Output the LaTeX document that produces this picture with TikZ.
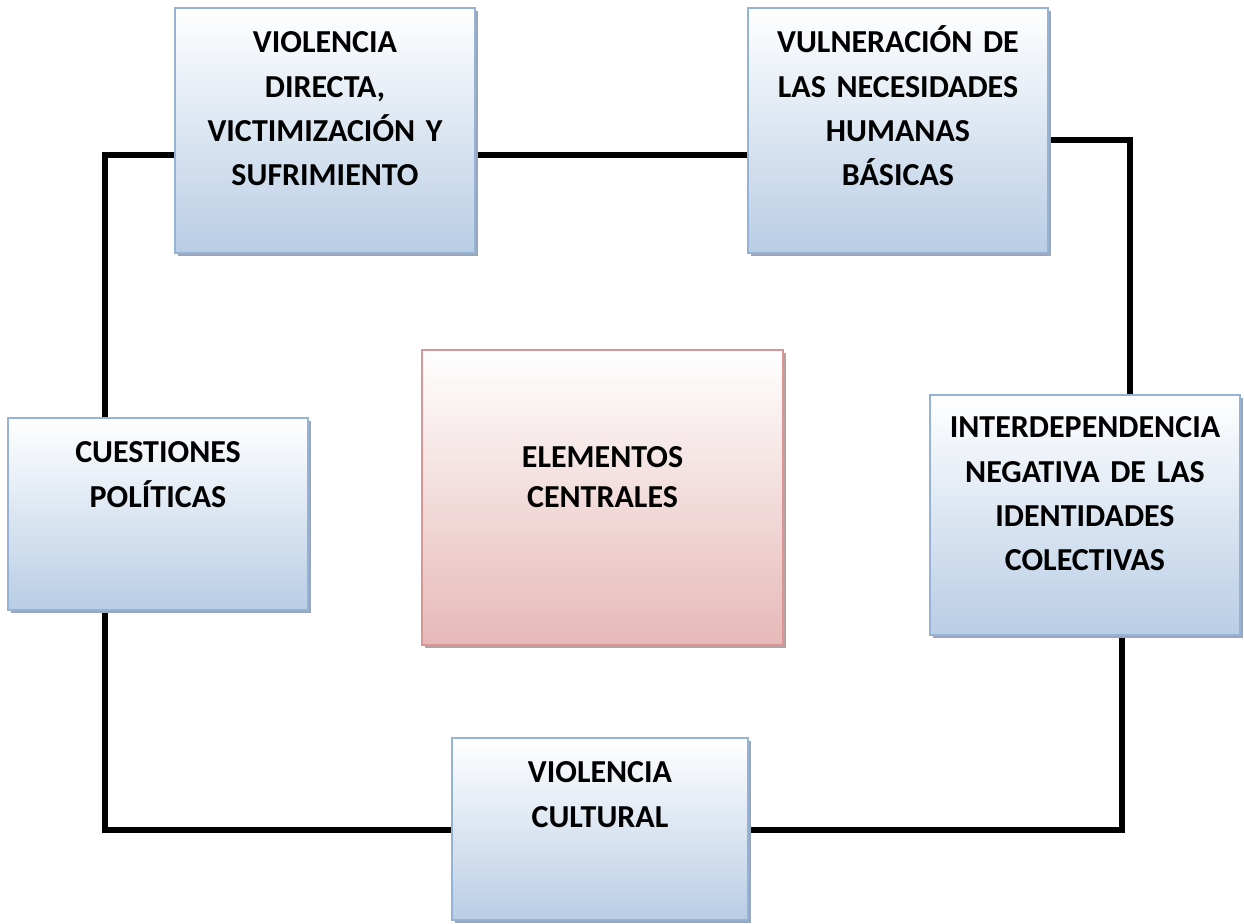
\documentclass[tikz,border=0pt]{standalone}
\usepackage{fontspec}
\setmainfont{Carlito}
\usepackage{xcolor}
\usepackage{tikz}
\usetikzlibrary{shadows,backgrounds}

\definecolor{azulborde}{HTML}{95B3D7}
\definecolor{azulfondo}{HTML}{B9CDE5}
\definecolor{azulsombra}{HTML}{9AA6BA}
\definecolor{rojoborde}{HTML}{D99694}
\definecolor{rojofondo}{HTML}{E6B9B8}
\definecolor{rojosombra}{HTML}{B8A0A0}

\begin{document}
\begin{tikzpicture}[x=0.5pt,y=-0.5pt,
	caja/.style={rectangle,draw=azulborde,line width=1.2pt,top color=white,bottom color=azulfondo,
		drop shadow={shadow xshift=1.6pt,shadow yshift=-1.6pt,fill=azulsombra,opacity=1}},
	centro/.style={caja,draw=rojoborde,bottom color=rojofondo,
		drop shadow={shadow xshift=1.6pt,shadow yshift=-1.6pt,fill=rojosombra,opacity=1}},
	texto/.style={anchor=base,align=center,text width=170pt,inner sep=0pt,
		font=\bfseries\fontsize{16}{22.2}\selectfont},
	linea/.style={line width=2.8pt}]
	\useasboundingbox (0,0) rectangle (1244,924);

	\node[caja,minimum width=150pt,minimum height=122.5pt] (directa) at (325,130.5) {};
	\node[caja,minimum width=150pt,minimum height=122.5pt] (necesidades) at (898,130.5) {};
	\node[caja,minimum width=150pt,minimum height=96pt] (politicas) at (158,514) {};
	\node[centro,minimum width=180.5pt,minimum height=147.5pt] (elementos) at (602.5,497.5) {};
	\node[caja,minimum width=155pt,minimum height=120pt] (identidades) at (1085,515) {};
	\node[caja,minimum width=148pt,minimum height=91pt] (cultural) at (600,829) {};

	\node[texto] (directa-t) at ([yshift=-23pt]directa.north) {VIOLENCIA\\DIRECTA,\\VICTIMIZACIÓN Y\\SUFRIMIENTO};
	\node[texto] (necesidades-t) at ([yshift=-23pt]necesidades.north) {VULNERACIÓN DE\\LAS NECESIDADES\\HUMANAS\\BÁSICAS};
	\node[texto] (politicas-t) at ([yshift=-23pt]politicas.north) {CUESTIONES\\POLÍTICAS};
	\node[texto,font=\bfseries\fontsize{16}{20}\selectfont] (elementos-t) at ([yshift=-59.5pt]elementos.north) {ELEMENTOS\\CENTRALES};
	\node[texto] (identidades-t) at ([yshift=-22pt]identidades.north) {INTERDEPENDENCIA\\NEGATIVA DE LAS\\IDENTIDADES\\COLECTIVAS};
	\node[texto] (cultural-t) at ([yshift=-23pt]cultural.north) {VIOLENCIA\\CULTURAL};

	\coordinate (esq-si) at (105,155);
	\coordinate (esq-sd) at (1130,140);
	\coordinate (esq-id) at (1122,830);
	\coordinate (esq-ii) at (105,830);

	\begin{scope}[on background layer]
	\draw[linea] (directa.west |- esq-si) -- (esq-si) -- (esq-si |- politicas.north);
	\draw[linea] (directa.east |- esq-si) -- (necesidades.west |- esq-si);
	\draw[linea] (necesidades.east |- esq-sd) -- (esq-sd) -- (esq-sd |- identidades.north);
	\draw[linea] (esq-id |- identidades.south) -- (esq-id) -- (cultural.east |- esq-id);
	\draw[linea] (cultural.west |- esq-ii) -- (esq-ii) -- (esq-ii |- politicas.south);
	\end{scope}
\end{tikzpicture}
\end{document}
